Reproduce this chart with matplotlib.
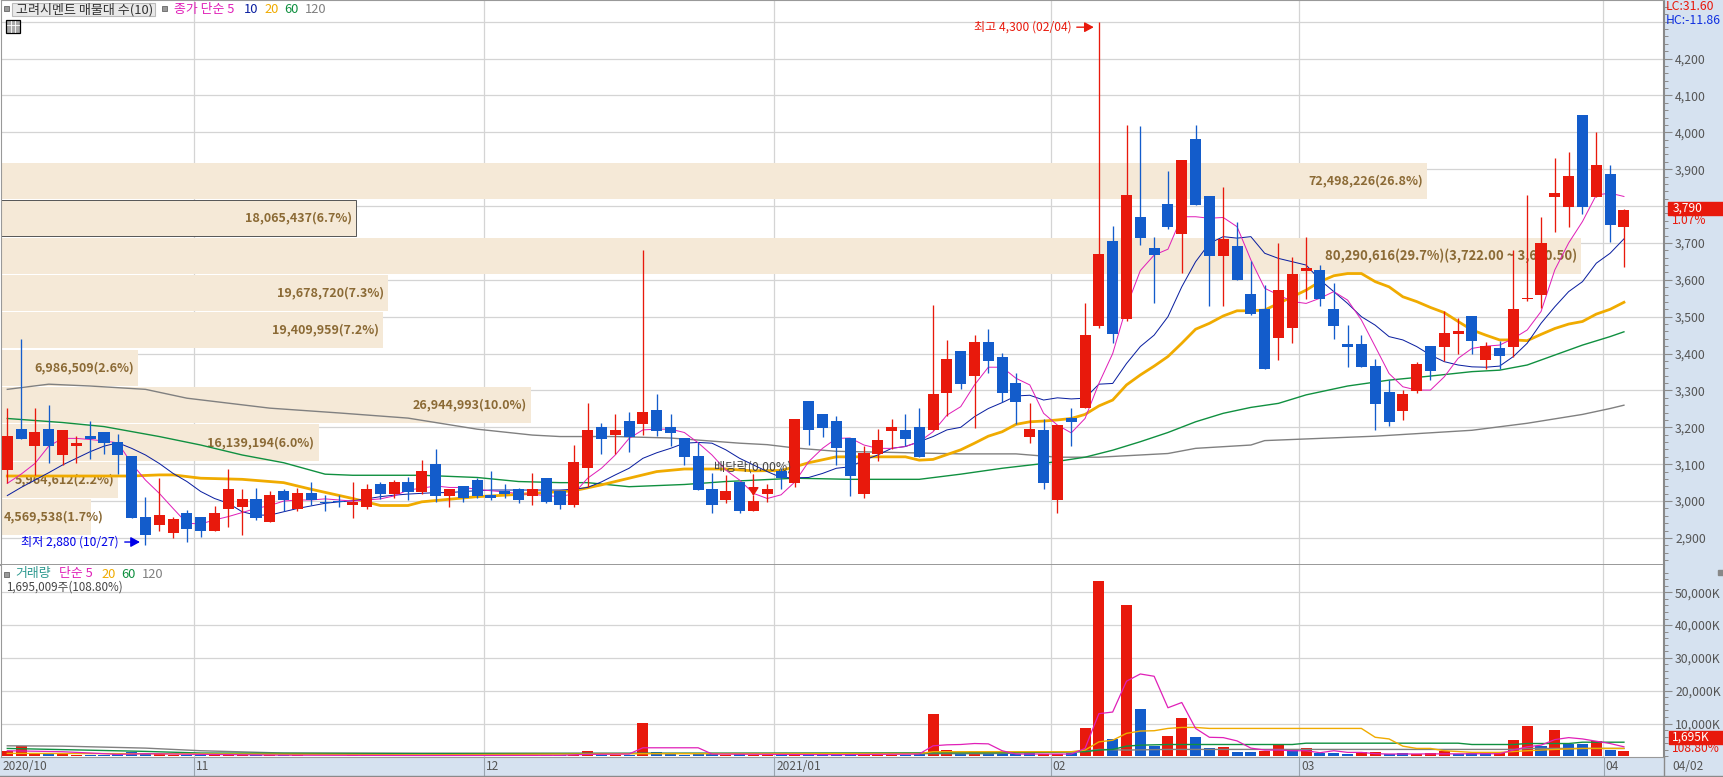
import matplotlib
matplotlib.use('Agg')
import matplotlib.pyplot as plt
from matplotlib.patches import Rectangle

plt.rcParams['font.family'] = ['Noto Sans CJK KR', 'DejaVu Sans']

# daily candles
opens = [3084,3195,3149,3195,3125,3149,3176,3187,3160,3122,2957,2935,2913,2968,2957,2919,2979,2984,3006,2943,
         3027,2979,3022,2998,3000,2989,2984,3046,3019,3052,3025,3100,3014,3041,3057,3016,3027,3033,3014,3063,
         3027,2989,3090,3201,3179,3217,3209,3247,3201,3171,3122,3033,3003,3052,2973,3019,3082,3049,3271,3236,
         3217,3171,3019,3128,3190,3193,3201,3193,3293,3407,3339,3431,3391,3320,3174,3193,3003,3225,3252,3475,
         3705,3494,3770,3686,3806,3724,3982,3827,3665,3692,3562,3521,3442,3469,3624,3627,3521,3426,3426,3366,
         3296,3244,3298,3420,3418,3453,3502,3383,3415,3418,3548,3559,3825,3798,4047,3825,3887,3743]
closes = [3176,3168,3187,3149,3193,3157,3168,3157,3125,2954,2908,2962,2951,2924,2919,2968,3033,3006,2954,3016,
          3003,3022,3003,2995,2997,2997,3033,3019,3052,3025,3082,3014,3033,3008,3014,3008,3019,3003,3033,2997,
          2989,3106,3193,3168,3193,3174,3241,3190,3185,3120,3030,2989,3027,2973,3000,3033,3063,3223,3193,3198,
          3144,3068,3130,3166,3201,3168,3120,3290,3386,3317,3431,3380,3293,3269,3195,3049,3206,3214,3450,3670,
          3453,3830,3713,3667,3743,3925,3803,3665,3711,3600,3507,3358,3572,3616,3632,3548,3475,3418,3364,3263,
          3214,3290,3372,3353,3456,3461,3434,3420,3393,3521,3551,3700,3835,3882,3798,3911,3749,3790]
highs = [3252,3440,3252,3260,3193,3176,3217,3187,3182,3122,3011,3063,2957,2976,2957,2987,3087,3033,3035,3027,
         3033,3035,3052,3016,3016,3052,3046,3052,3057,3065,3111,3141,3033,3041,3063,3082,3046,3035,3076,3063,
         3027,3152,3266,3212,3236,3241,3680,3290,3236,3171,3160,3076,3071,3052,3017,3046,3090,3223,3271,3236,
         3231,3171,3150,3196,3223,3236,3252,3532,3437,3407,3450,3467,3402,3347,3266,3223,3206,3252,3537,4300,
         3746,4020,4017,3716,3895,3925,4020,3827,3852,3757,3651,3586,3700,3662,3716,3640,3591,3477,3450,3385,
         3328,3301,3377,3420,3515,3496,3502,3431,3434,3681,3830,3770,3930,3946,4047,4000,3911,3792]
lows = [3050,3168,3071,3104,3098,3104,3114,3128,3073,2954,2880,2919,2900,2889,2903,2919,2930,2908,2949,2943,
        2973,2973,2989,2973,2984,2954,2979,3006,3008,3003,3019,2997,2984,2997,3008,3003,3008,2995,2989,2995,
        2979,2984,3038,3128,3128,3133,3179,3176,3149,3098,3030,2968,2995,2968,2973,2998,3033,3038,3152,3174,
        3098,3014,3008,3109,3141,3149,3120,3193,3231,3304,3198,3347,3269,3209,3157,3033,2968,3149,3252,3469,
        3429,3488,3694,3537,3738,3618,3803,3529,3529,3600,3505,3358,3383,3429,3548,3529,3440,3364,3364,3193,
        3203,3220,3293,3328,3380,3399,3399,3358,3358,3391,3543,3524,3730,3743,3779,3825,3703,3635]

# moving averages on price
ma5 = [3048,3073,3102,3149,3170,3170,3167,3163,3158,3102,3057,3021,2980,2940,2938,2949,2958,2969,2980,2988,
       3000,3003,3003,3006,3003,3000,3003,3006,3014,3030,3035,3041,3037,3037,3032,3028,3025,3020,3018,3015,
       3012,3020,3062,3089,3125,3170,3193,3195,3195,3186,3158,3125,3084,3057,3021,3007,3017,3052,3107,3143,
       3170,3171,3152,3143,3143,3148,3161,3188,3233,3256,3315,3363,3363,3333,3315,3238,3206,3185,3224,3319,
       3400,3527,3625,3667,3683,3771,3771,3767,3769,3744,3654,3577,3559,3541,3536,3550,3568,3545,3491,3419,
       3346,3310,3301,3301,3337,3387,3414,3420,3423,3441,3464,3514,3627,3700,3758,3830,3835,3826]
ma10 = [3015,3037,3057,3077,3098,3116,3134,3149,3158,3143,3125,3102,3075,3053,3026,3007,2994,2971,2962,2962,
        2971,2980,2987,2994,2998,3001,3006,3012,3016,3019,3021,3023,3023,3026,3028,3030,3030,3030,3030,3030,
        3030,3032,3037,3052,3071,3089,3116,3131,3143,3157,3159,3157,3139,3116,3098,3080,3064,3063,3064,3075,
        3089,3093,3111,3125,3143,3148,3161,3175,3193,3200,3229,3251,3267,3285,3287,3274,3280,3277,3279,3317,
        3319,3373,3419,3450,3500,3581,3649,3699,3717,3713,3717,3672,3658,3649,3640,3600,3568,3536,3500,3477,
        3446,3437,3419,3396,3378,3369,3364,3363,3366,3392,3428,3482,3527,3568,3595,3645,3672,3711]
ma20_x = [0,4,9,11,12,14,17,20,22,25,27,29,30,32,34,36,41,43,45,47,49,52,54,56,57,58,60,62,65,66,67,69,70,71,72,
          73,74,75,76,77,78,79,80,81,82,83,84,85,86,87,88,89,90,91,92,93,94,95,96,97,98,99,100,101,102,103,104,105,
          106,107,108,109,110,111,112,113,114,115,116,117]
ma20_y = [3068,3068,3068,3071,3071,3062,3059,3050,3032,3007,2988,2988,2998,3005,3012,3016,3028,3044,3062,3080,
          3087,3087,3082,3083,3093,3104,3120,3120,3120,3111,3113,3139,3157,3176,3188,3208,3215,3217,3220,3224,
          3235,3258,3274,3315,3342,3366,3392,3428,3466,3482,3502,3516,3516,3518,3536,3554,3572,3595,3611,3617,
          3617,3595,3581,3554,3541,3525,3511,3487,3464,3450,3437,3437,3435,3452,3468,3480,3487,3507,3520,3539]
ma60_x = [0,4,7,11,14,17,20,23,25,30,34,37,40,42,45,49,52,57,61,66,69,72,75,78,80,82,84,86,88,90,92,94,97,100,103,106,108,110,112,114,116,117]
ma60_y = [3224,3213,3202,3175,3152,3125,3104,3073,3070,3070,3064,3053,3050,3050,3039,3045,3053,3062,3059,3059,
          3073,3089,3102,3119,3138,3161,3186,3215,3238,3254,3265,3288,3312,3328,3339,3351,3355,3369,3396,3423,3446,3459]
ma120_x = [0,3,6,10,13,19,24,29,34,38,40,44,48,53,55,57,60,64,69,73,76,79,84,86,90,91,99,106,110,114,116,117]
ma120_y = [3303,3317,3312,3303,3279,3252,3239,3225,3195,3179,3175,3175,3171,3157,3153,3144,3135,3132,3128,3128,
           3119,3119,3129,3143,3152,3164,3176,3192,3211,3235,3251,3260]

# volume in K shares
volume = [1500,3000,1000,800,700,400,500,400,600,1200,900,700,500,500,300,300,500,400,300,300,
          300,250,200,200,200,300,300,250,200,200,300,300,250,200,200,200,150,200,300,250,
          250,500,1700,400,300,500,10300,1200,600,500,700,700,500,600,400,300,300,1000,700,400,
          500,600,700,500,400,300,900,13000,2000,1000,1500,800,900,700,900,700,700,900,8600,53300,
          5300,46100,14300,3200,6200,11600,5800,2500,2800,1300,1300,1600,3400,1900,2500,1000,1000,700,1300,1300,
          800,900,800,900,1600,800,900,900,900,4900,9200,3100,8000,3900,3700,4600,1900,1695]
# colours of the last 46 volume bars, earlier ones follow the candle
vol_colors_end = 'bbbrrbrrbrbbrrbbrbbrrbrbbbrrbbrrrbbbrrrbrbbrbr'
vol5_x = [0,4,8,10,14,20,30,40,42,45,46,48,50,51,60,66,67,68,69,70,71,72,73,77,78,79,80,81,82,83,84,85,86,87,88,89,90,91,92,93,94,95,96,97,98,99,100,108,109,110,111,112,113,114,115,116,117]
vol5_y = [1700,1400,600,800,600,350,250,300,600,700,2600,2600,2600,700,500,700,3200,3500,3600,3900,3800,1700,700,700,2400,
          13000,13500,22900,25100,24400,14800,16400,8500,5800,5700,4700,2500,1900,1900,1700,1700,1100,1700,1200,1200,800,700,
          800,1900,2900,3400,5100,5700,5300,4600,3900,2900]
vol20_x = [0,10,30,46,66,67,72,77,78,79,80,81,82,83,84,85,86,87,98,99,100,101,102,103,104,106,108,110,112,114,117]
vol20_y = [900,800,450,800,850,1400,1400,1400,1900,4400,4900,7000,7700,7800,8500,8800,8800,8500,8500,5800,5300,3100,2400,2400,1700,1200,1200,1700,2100,2400,2400]
vol60_x = [0,10,14,30,72,78,79,80,81,82,84,93,94,105,106,109,110,113,114,117]
vol60_y = [2400,1500,1000,800,1100,1400,1900,2100,3100,3400,3600,3600,4000,4000,3600,3600,3900,3900,4300,4300]
vol120_x = [0,4,10,14,20,71,78,79,81,84,109,110,117]
vol120_y = [3200,3100,2500,1700,1000,800,1500,2100,1900,2100,2100,2400,2400]

# supply bands, bottom to top
band_low = [2908,3009,3110,3212,3313,3414,3515,3616,3718,3819]
band_vol = [4569538,5964612,16139194,26944993,6986509,19409959,19678720,80290616,18065437,72498226]
band_pct = [1.7,2.2,6.0,10.0,2.6,7.2,7.3,29.7,6.7,26.8]

price_ticks = list(range(2900, 4400, 100))
vol_ticks = [10000, 20000, 30000, 40000, 50000]
month_pos = [13.5, 34.5, 55.5, 75.5, 93.5, 115.5]
month_labels = ['11', '12', '2021/01', '02', '03', '04']

RED = '#E8190C'
BLUE = '#135CCB'
PINK = '#E020B8'
NAVY = '#0A1FA0'
ORANGE = '#F0AB00'
GREEN = '#109040'
GREY = '#808080'
GRID = '#D4D4D4'
STRIP = '#D6E2F0'
BAND = '#F5E9D7'
BAND_TEXT = '#8B6A35'

W, H = 1723, 777
fig = plt.figure(figsize=(W / 100, H / 100), dpi=100, facecolor='white')


def px(x, y):                       # picture pixels to figure fractions
    return x / W, 1 - y / H


def ptext(x, y, s, color='#444444', size=8.6, **kw):
    kw.setdefault('va', 'center')
    fig.text(*px(x, y), s, color=color, fontsize=size, zorder=20, **kw)


# right and bottom strips
fig.patches.append(Rectangle(px(1664, 777), (W - 1664) / W, 777 / H, transform=fig.transFigure, color=STRIP, zorder=-2))
fig.patches.append(Rectangle(px(0, 776), 1, 19 / H, transform=fig.transFigure, color=STRIP, zorder=-2))

ax = fig.add_axes([1 / W, 1 - 565 / H, 1663 / W, 565 / H])
vx = fig.add_axes([1 / W, 1 - 757 / H, 1663 / W, 192 / H], sharex=ax)
x_left, x_right = -0.456, 119.9
ax.set_xlim(x_left, x_right)
ax.set_ylim(2826.7, 4358.7)
vx.set_ylim(-210, 58320)

for a in (ax, vx):
    a.set_axisbelow(True)
    a.yaxis.tick_right()
    for s in ('top', 'bottom', 'left'):
        a.spines[s].set_color('#999999')
    a.spines['right'].set_color('#8A8A8A')
    a.spines['right'].set_linewidth(1.5)
    for m in month_pos:
        a.axvline(m, color=GRID, lw=0.9, zorder=0)
    a.tick_params(axis='x', length=0, labelbottom=False)
    a.tick_params(axis='y', which='major', length=6, width=0.8, color='#8A8A8A', labelcolor='#555555', labelsize=8.8, pad=2)
    a.tick_params(axis='y', which='minor', length=3, width=0.7, color='#8A8A8A')
ax.spines['bottom'].set_linewidth(1.4)
vx.spines['top'].set_visible(False)

ax.set_yticks(price_ticks)
ax.set_yticklabels([f'{p:,}' if p < 4300 else '' for p in price_ticks])
ax.set_yticks(range(2840, 4360, 20), minor=True)
ax.tick_params(axis='y', which='major', gridOn=True, grid_color=GRID, grid_linewidth=0.9)
vx.set_yticks(vol_ticks)
vx.set_yticklabels([f'{v:,}K' for v in vol_ticks])
vx.set_yticks(range(0, 58000, 2000), minor=True)
vx.tick_params(axis='y', which='major', gridOn=True, grid_color=GRID, grid_linewidth=0.9)

# supply bands, 19.68 px per million shares
band_scale = 19.68 / 13.82 / 1e6
for low, v, pct in zip(band_low, band_vol, band_pct):
    right = x_left + v * band_scale
    ax.barh(low, v * band_scale, height=98, left=x_left, align='edge', color=BAND, zorder=1)
    label = f'{v:,}({pct:.1f}%)'
    size = 9.0
    if v == max(band_vol):
        label += '(3,722.00 ~ 3,620.50)'
        size = 9.4
    if v == min(band_vol):          # too long for its band, so it starts at the left edge
        ax.annotate(label, xy=(x_left, low + 49), xytext=(2, 0), textcoords='offset points',
                    ha='left', va='center', color=BAND_TEXT, fontsize=size, fontweight='bold', zorder=1.5)
    else:
        ax.annotate(label, xy=(right, low + 49), xytext=(-3, 0), textcoords='offset points',
                    ha='right', va='center', color=BAND_TEXT, fontsize=size, fontweight='bold', zorder=1.5)
ax.add_patch(Rectangle((x_left, band_low[8]), band_vol[8] * band_scale, 98, fill=False, ec='#555555', lw=0.7, zorder=1.2))

# moving averages, under the candles
idx = list(range(len(closes)))
ax.plot(ma120_x, ma120_y, color=GREY, lw=1.0, zorder=2)
ax.plot(ma60_x, ma60_y, color=GREEN, lw=1.0, zorder=2)
ax.plot(ma20_x, ma20_y, color=ORANGE, lw=2.0, zorder=2)
ax.plot(idx, ma10, color=NAVY, lw=0.72, zorder=2)
ax.plot(idx, ma5, color=PINK, lw=0.72, zorder=2)

# candles
colors = [RED if c >= o else BLUE for o, c in zip(opens, closes)]
ax.vlines(idx, lows, highs, colors=colors, lw=0.95, zorder=3)
ax.bar(idx, [max(abs(c - o), 3) for o, c in zip(opens, closes)], bottom=[min(o, c) for o, c in zip(opens, closes)],
       width=0.8, color=colors, zorder=3)

# volume
bar_colors = colors[:72] + [RED if c == 'r' else BLUE for c in vol_colors_end]
bar_colors[1] = RED                 # second bar is red although its candle is blue
vx.bar(idx, volume, width=0.8, color=bar_colors, zorder=3)
vx.plot(vol120_x, vol120_y, color=GREY, lw=1.0, zorder=4)
vx.plot(vol60_x, vol60_y, color=GREEN, lw=1.0, zorder=4)
vx.plot(vol20_x, vol20_y, color=ORANGE, lw=1.0, zorder=4)
vx.plot(vol5_x, vol5_y, color=PINK, lw=0.9, zorder=4)

# high, low and ex-dividend marks
ax.text(77.05, 4285, '최고 4,300 (02/04)', color=RED, fontsize=8.7, ha='right', va='center', zorder=6)
ax.annotate('', xy=(78.63, 4285), xytext=(77.4, 4285), zorder=6,
            arrowprops=dict(arrowstyle='-|>,head_width=0.3,head_length=0.55', color=RED, lw=1, shrinkA=0, shrinkB=0))
ax.text(8.08, 2889, '최저 2,880 (10/27)', color='#0000E8', fontsize=8.7, ha='right', va='center', zorder=6)
ax.annotate('', xy=(9.6, 2889), xytext=(8.5, 2889), zorder=6,
            arrowprops=dict(arrowstyle='-|>,head_width=0.3,head_length=0.55', color='#0000E8', lw=1, shrinkA=0, shrinkB=0))
ax.annotate('', xy=(54, 3014), xytext=(54, 3071), zorder=6,
            arrowprops=dict(arrowstyle='-|>,head_width=0.32,head_length=0.5', color=RED, lw=1, shrinkA=0, shrinkB=0))
ax.text(53.96, 3092, '배당락(0.00%)', color='#444444', fontsize=8.8, ha='center', va='center', zorder=6)

# month strip
for m, lab in zip(month_pos, month_labels):
    x_px = 7.3 + 13.82 * m
    fig.add_artist(plt.Line2D([x_px / W] * 2, [1 - 757 / H, 1 - 776 / H], color='#9AA5B0', lw=0.8))
    ptext(x_px + 2, 767, lab, color='#555555')
ptext(3, 767, '2020/10', color='#555555')
ptext(1672, 767, '04/02', color='#555555')
fig.add_artist(plt.Line2D([1664 / W] * 2, [1 - 757 / H, 1 - 776 / H], color='#8A8A8A', lw=1))
fig.add_artist(plt.Line2D([0, 1], [1 - 775.5 / H] * 2, color='#8A8A8A', lw=1))

# right side tags
fig.patches.append(Rectangle(px(1668, 214.7), 55 / W, 12.7 / H, transform=fig.transFigure, color=RED, zorder=10))
ptext(1673, 208, '3,790', color='white')
ptext(1672, 220, '1.07%', color=RED)
fig.patches.append(Rectangle(px(1668.5, 744), 54.5 / W, 13 / H, transform=fig.transFigure, color=RED, zorder=10))
ptext(1672, 737.5, '1,695K', color='white')
ptext(1672, 749, '108.80%', color=RED)
ptext(1666, 6, 'LC:31.60', color=RED, size=8.8)
ptext(1666, 20, 'HC:-11.86', color='#1030E0', size=8.8)
fig.patches.append(Rectangle(px(1718, 575), 5 / W, 5 / H, transform=fig.transFigure, color='#888888', zorder=10))

# price pane legend
fig.patches.append(Rectangle(px(4, 11), 5 / W, 5 / H, transform=fig.transFigure, fc='#999999', ec='#666666', lw=0.6, zorder=10))
fig.patches.append(Rectangle(px(11.5, 16), 143.5 / W, 13 / H, transform=fig.transFigure, fc='#E9E9E9', ec='#BBBBBB', lw=0.8, zorder=10))
ptext(16, 9.5, '고려시멘트 매물대 수(10)', color='#333333', size=9.4)
fig.patches.append(Rectangle(px(162, 11), 5 / W, 5 / H, transform=fig.transFigure, fc='#999999', ec='#666666', lw=0.6, zorder=10))
ptext(174, 9.5, '종가 단순 5', color=PINK, size=9.3)
ptext(244, 9.5, '10', color=NAVY, size=9.3)
ptext(264, 9.5, '20', color=ORANGE, size=9.3)
ptext(284, 9.5, '60', color=GREEN, size=9.3)
ptext(305, 9.5, '120', color=GREY, size=9.3)
# small table icon under the legend
fig.patches.append(Rectangle(px(6, 33), 14 / W, 13 / H, transform=fig.transFigure, fc='#AAAAAA', ec='black', lw=0.9, zorder=10))
fig.add_artist(plt.Line2D([7 / W, 19 / W], [1 - 25 / H] * 2, color='white', lw=0.6, zorder=11))
for gx in (10.5, 15):
    fig.add_artist(plt.Line2D([gx / W] * 2, [1 - 21 / H, 1 - 32 / H], color='white', lw=0.6, zorder=11))

# volume pane legend
fig.patches.append(Rectangle(px(4, 576.5), 5 / W, 5 / H, transform=fig.transFigure, fc='#999999', ec='#666666', lw=0.6, zorder=10))
ptext(15, 574, '거래량', color='#2E9A90', size=9.3)
ptext(59, 574, '단순 5', color=PINK, size=9.3)
ptext(101, 574, '20', color=ORANGE, size=9.3)
ptext(121, 574, '60', color=GREEN, size=9.3)
ptext(142, 574, '120', color=GREY, size=9.3)
ptext(6, 587, '1,695,009주(108.80%)', color='#444444', size=8.4)

fig.savefig('out.png', dpi=100, facecolor='white')
